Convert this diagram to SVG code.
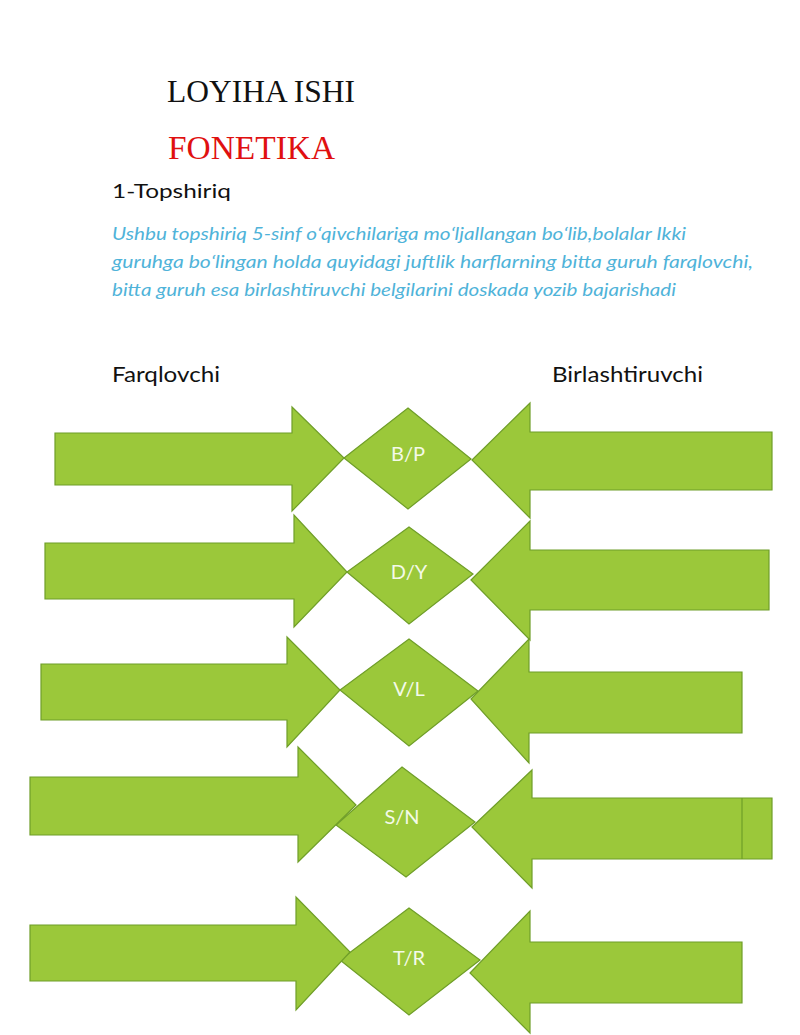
<svg xmlns="http://www.w3.org/2000/svg" width="800" height="1035" viewBox="0 0 800 1035">
<style>
.shape{fill:#9bc83a;stroke:#6f9e28;stroke-width:1.2;stroke-linejoin:miter}
.lbl{font-family:Lato,"Open Sans",sans-serif;font-size:20px;fill:#f4fae8;text-anchor:middle}
.cal{font-family:Lato,"Open Sans",sans-serif;fill:#111}
.blue{font-family:Lato,"Open Sans",sans-serif;font-style:italic;font-size:17.5px;fill:#4fb3d9}
</style>
<rect width="800" height="1035" fill="#fff"/>
<g id="header">
<text x="167" y="102" font-family="'Liberation Serif',serif" font-size="31" fill="#111" textLength="188" lengthAdjust="spacingAndGlyphs">LOYIHA ISHI</text>
<text x="168" y="159" font-family="'Liberation Serif',serif" font-size="33.5" fill="#e01010" textLength="167" lengthAdjust="spacingAndGlyphs">FONETIKA</text>
<text class="cal" x="112" y="198" font-size="20" textLength="119" lengthAdjust="spacingAndGlyphs">1-Topshiriq</text>
<text class="blue" x="112" y="240" textLength="574" lengthAdjust="spacingAndGlyphs">Ushbu topshiriq 5-sinf oʻqivchilariga moʻljallangan boʻlib,bolalar Ikki</text>
<text class="blue" x="112" y="268" textLength="641" lengthAdjust="spacingAndGlyphs">guruhga boʻlingan holda quyidagi juftlik harflarning bitta guruh farqlovchi,</text>
<text class="blue" x="112" y="296" textLength="564" lengthAdjust="spacingAndGlyphs">bitta guruh esa birlashtiruvchi belgilarini doskada yozib bajarishadi</text>
<text class="cal" x="112" y="382" font-size="21" textLength="108" lengthAdjust="spacingAndGlyphs">Farqlovchi</text>
<text class="cal" x="552" y="382" font-size="21" textLength="151" lengthAdjust="spacingAndGlyphs">Birlashtiruvchi</text>
</g>
<g id="node-bp">
<polygon class="shape" points="408,408 471,459 408,509 344,458"/>
</g>
<g id="node-dy">
<polygon class="shape" points="409,527 473,574 409,624 347,572"/>
</g>
<g id="node-vl">
<polygon class="shape" points="409,639 478,691 409,746 340,690"/>
</g>
<g id="node-sn">
<polygon class="shape" points="402,767 475,822 406,877 336,825"/>
</g>
<g id="node-tr">
<polygon class="shape" points="409,908 480,960 409,1015 340,960"/>
</g>
<g id="arrows">
<polygon class="shape" points="55,433 292,433 292,407 344,458 292,511 292,485 55,485"/>
<polygon class="shape" points="472,460 530,403 530,432 772,432 772,490 530,490 530,518"/>
<polygon class="shape" points="45,543 294,543 294,515 347,572 294,627 294,599 45,599"/>
<polygon class="shape" points="471,580 530,521 530,550 769,550 769,610 530,610 530,640"/>
<polygon class="shape" points="41,664 287,664 287,637 340,690 287,747 287,720 41,720"/>
<polygon class="shape" points="471,699 529,639 529,672 742,672 742,733 529,733 529,763"/>
<polygon class="shape" points="30,777 298,777 298,747 356,805 298,862 298,835 30,835"/>
<polygon class="shape" points="472,827 532,770 532,798 772,798 772,859 532,859 532,888"/>
<line x1="742" y1="798" x2="742" y2="859" stroke="#6f9e28" stroke-width="1.2"/>
<polygon class="shape" points="30,925 296,925 296,897 350,952 296,1010 296,981 30,981"/>
<polygon class="shape" points="470,973 530,911 530,942 742,942 742,1003 530,1003 530,1033"/>
</g>
<g id="labels">
<text class="lbl" x="408" y="461">B/P</text>
<text class="lbl" x="409" y="579">D/Y</text>
<text class="lbl" x="409" y="696">V/L</text>
<text class="lbl" x="402" y="824">S/N</text>
<text class="lbl" x="409" y="965">T/R</text>
</g>
</svg>
